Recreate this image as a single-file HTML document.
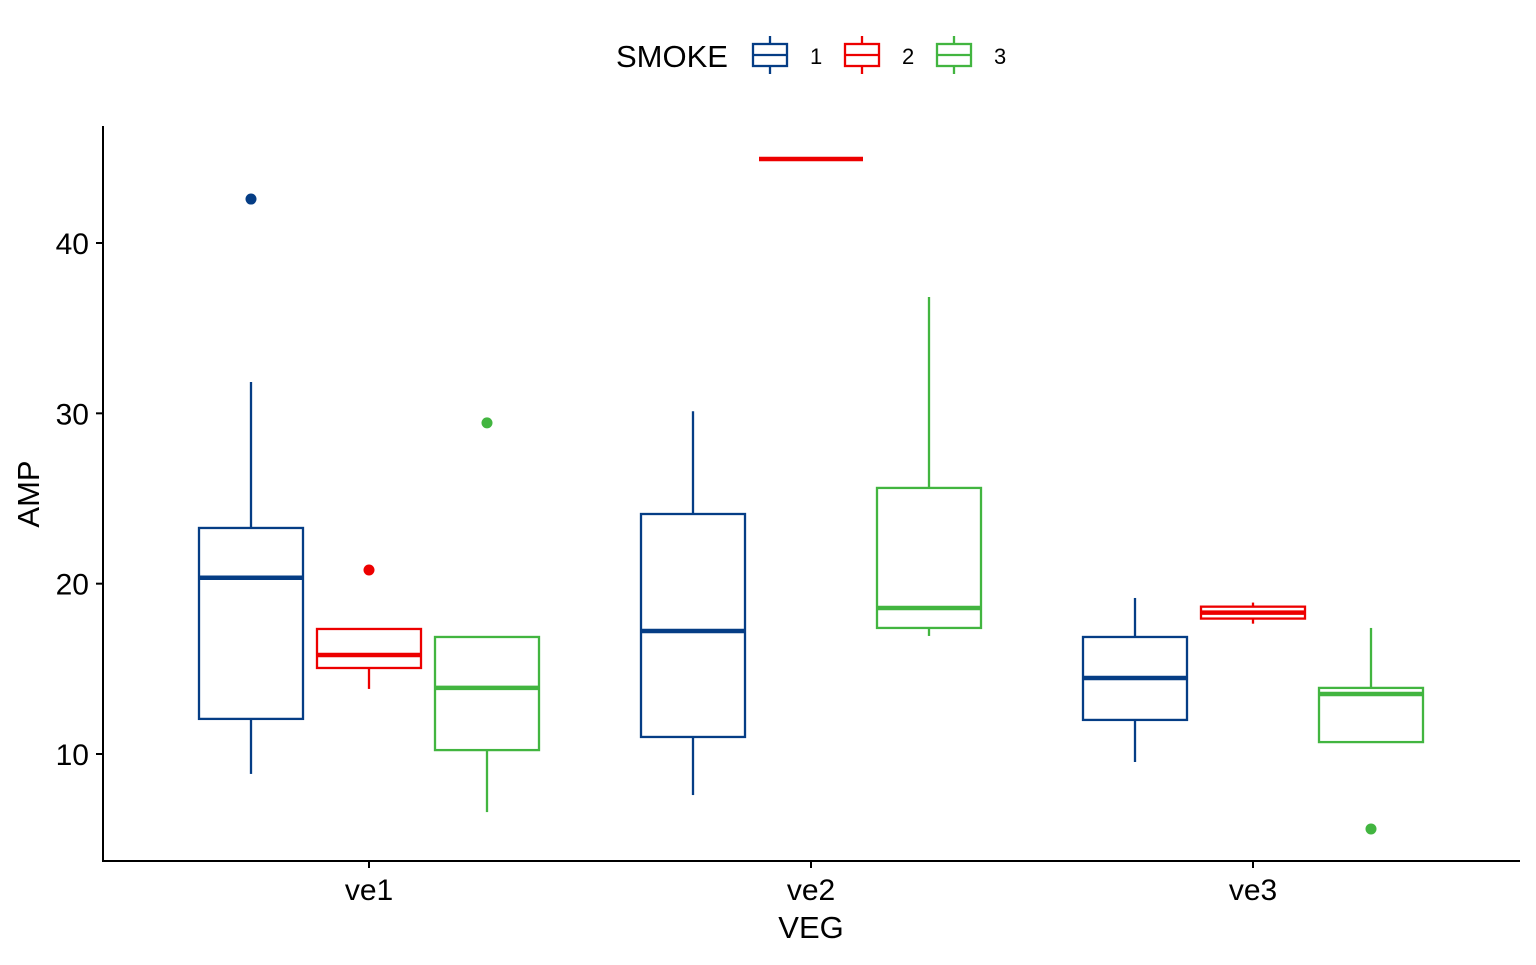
<!DOCTYPE html>
<html><head><meta charset="utf-8"><style>
body{margin:0;background:#fff;}
svg text{font-family:"Liberation Sans",Arial,sans-serif;fill:#000;}
</style></head><body>
<svg id="chart" width="1536" height="960" xmlns="http://www.w3.org/2000/svg">
<g id="legend"></g>
<g id="plot"></g>
</svg>
<script>
const categories = ["ve1","ve2","ve3"];
const groups = ["1","2","3"];
const colors = ["#053D85","#ED0000","#42B540"];
// [low, q1, median, q3, high] per category per group
const stats1 = [[8.83,12.06,20.35,23.27,31.84],[7.59,11.0,17.22,24.09,30.12],[9.53,12.0,14.46,16.87,19.16]];
const stats2 = [[13.82,15.05,15.81,17.34,17.34],[44.93,44.93,44.93,44.93,44.93],[17.65,17.95,18.30,18.65,18.89]];
const stats3 = [[6.59,10.23,13.88,16.87,16.87],[16.93,17.40,18.57,25.62,36.83],[10.70,10.70,13.52,13.88,17.40]];
const outliers1 = [[42.58],[],[]];
const outliers2 = [[20.80],[],[]];
const outliers3 = [[29.44],[],[5.60]];
const yTicks = [10,20,30,40];

const NS="http://www.w3.org/2000/svg";
const plot=document.getElementById('plot'), legend=document.getElementById('legend');
function el(tag,attrs,parent){const e=document.createElementNS(NS,tag);for(const k in attrs)e.setAttribute(k,attrs[k]);parent.appendChild(e);return e;}
const y=v=>754-(v-10)*(511/30);
const x=i=>369+i*442;
const off=118, bw=104;

let a=el('line',{x1:103,y1:126,x2:103,y2:862,stroke:'#000','stroke-width':2},plot);


a=el('line',{x1:102,y1:861,x2:1520,y2:861,stroke:'#000','stroke-width':2},plot);


yTicks.forEach(t=>{
  let l=el('line',{x1:96,x2:103,y1:y(t),y2:y(t),stroke:'#000','stroke-width':2},plot);
  
  
  let tx=el('text',{x:89,y:y(t)+11,'text-anchor':'end','font-size':30},plot);tx.textContent=t;
  
  
});
categories.forEach((c,i)=>{
  let l=el('line',{x1:x(i),x2:x(i),y1:861,y2:868,stroke:'#000','stroke-width':2},plot);
  
  
  let tx=el('text',{x:x(i),y:900,'text-anchor':'middle','font-size':30},plot);tx.textContent=c;
  
  
});
let t=el('text',{x:811,y:938,'text-anchor':'middle','font-size':31},plot);t.textContent='VEG';


t=el('text',{x:39,y:494,'text-anchor':'middle','font-size':31,transform:'rotate(-90 39 494)'},plot);t.textContent='AMP';



const allStats=[stats1,stats2,stats3], allOut=[outliers1,outliers2,outliers3];
allStats.forEach((st,g)=>{
  st.forEach((s,i)=>{
    const cx=x(i)+(g-1)*off, col=colors[g];
    const grp=el('g',{},plot);
    
    
    el('line',{x1:cx,x2:cx,y1:y(s[0]),y2:y(s[1]),stroke:col,'stroke-width':2.3},grp);
    el('line',{x1:cx,x2:cx,y1:y(s[3]),y2:y(s[4]),stroke:col,'stroke-width':2.3},grp);
    el('rect',{x:cx-bw/2,y:y(s[3]),width:bw,height:Math.max(0,y(s[1])-y(s[3])),fill:'none',stroke:col,'stroke-width':2.3},grp);
    el('line',{x1:cx-bw/2,x2:cx+bw/2,y1:y(s[2]),y2:y(s[2]),stroke:col,'stroke-width':4.5},grp);
    allOut[g][i].forEach(v=>{
      const p=el('circle',{cx:cx,cy:y(v),r:5.5,fill:col},grp);
      
      
    });
  });
});

t=el('text',{x:616,y:67,'font-size':31},legend);t.textContent='SMOKE';


const lx=[770,862,954];
groups.forEach((gname,g)=>{
  const c=colors[g], cx=lx[g];
  const k=el('g',{},legend);
  
  
  el('line',{x1:cx,x2:cx,y1:36,y2:74,stroke:c,'stroke-width':2.3},k);
  el('rect',{x:cx-17,y:44,width:34,height:22,fill:'#fff',stroke:c,'stroke-width':2.3},k);
  el('line',{x1:cx-17,x2:cx+17,y1:55,y2:55,stroke:c,'stroke-width':2.3},k);
  const tx=el('text',{x:cx+40,y:64,'font-size':22,'text-anchor':'start'},k);tx.textContent=gname;
});
</script>
</body></html>
